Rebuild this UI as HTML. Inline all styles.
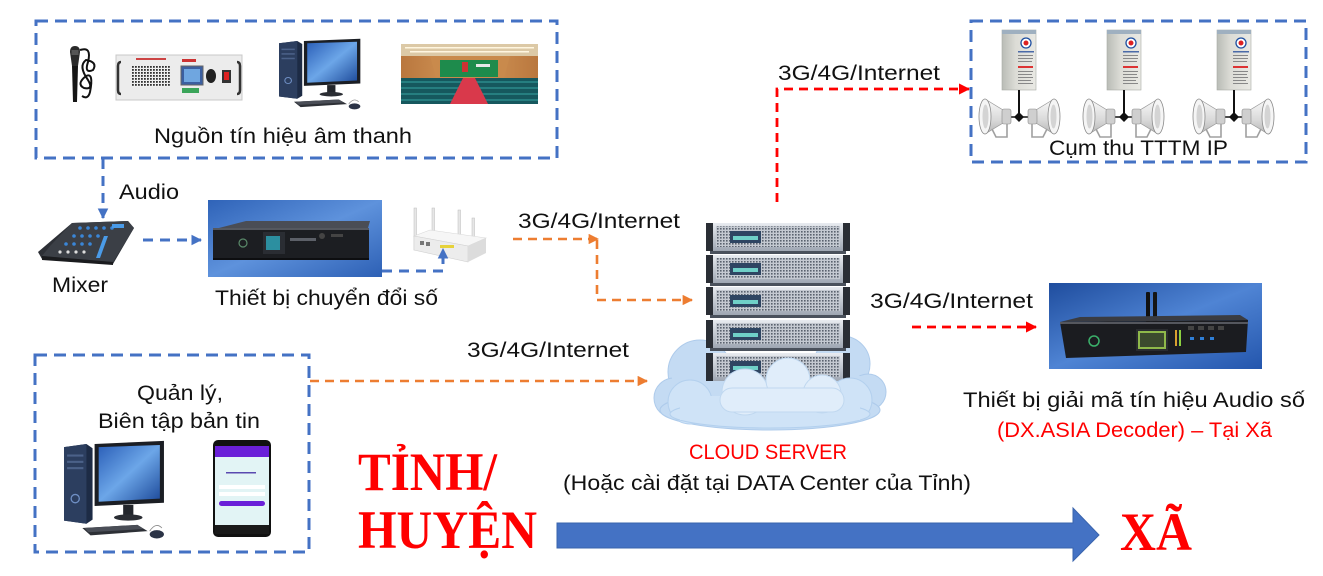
<!DOCTYPE html>
<html><head><meta charset="utf-8"><style>
html,body{margin:0;padding:0;background:#fff;}
svg{display:block;}
text{font-family:"Liberation Sans","DejaVu Sans",sans-serif;}
.t{font-size:21px;fill:#111;}
.r{font-size:21px;fill:#ff0000;}
.big{font-family:"Liberation Serif","DejaVu Serif",serif;font-weight:bold;font-size:54px;fill:#ff0000;}
</style></head><body>
<svg width="1323" height="576" viewBox="0 0 1323 576" xmlns="http://www.w3.org/2000/svg">
<defs>
<marker id="mb" viewBox="0 0 10 10" refX="9" refY="5" markerWidth="3.6" markerHeight="3.6" orient="auto"><path d="M0,0 L10,5 L0,10 z" fill="#4472C4"/></marker>
<marker id="mo" viewBox="0 0 10 10" refX="9" refY="5" markerWidth="4" markerHeight="4" orient="auto"><path d="M0,0 L10,5 L0,10 z" fill="#ED7D31"/></marker>
<marker id="mr" viewBox="0 0 10 10" refX="9" refY="5" markerWidth="4" markerHeight="4" orient="auto"><path d="M0,0 L10,5 L0,10 z" fill="#FF0000"/></marker>
<linearGradient id="blueBg" x1="0" y1="0" x2="1" y2="1"><stop offset="0" stop-color="#1f4d9e"/><stop offset="0.5" stop-color="#4f84d4"/><stop offset="1" stop-color="#2456ad"/></linearGradient>
<linearGradient id="blueBg2" x1="0" y1="0" x2="1" y2="1"><stop offset="0" stop-color="#2f63b8"/><stop offset="0.5" stop-color="#5e92dc"/><stop offset="1" stop-color="#2d60b5"/></linearGradient>
<linearGradient id="scr" x1="0" y1="0" x2="1" y2="1"><stop offset="0" stop-color="#2b5fb8"/><stop offset="0.5" stop-color="#6ca6e8"/><stop offset="1" stop-color="#1d4a9a"/></linearGradient>
<linearGradient id="srvG" x1="0" y1="0" x2="0" y2="1"><stop offset="0" stop-color="#e8ebf0"/><stop offset="1" stop-color="#9ea6b2"/></linearGradient>
<pattern id="grid" width="3" height="3" patternUnits="userSpaceOnUse"><rect width="3" height="3" fill="#c4c9d1"/><rect width="1.6" height="1.6" fill="#5a626e"/></pattern>
<pattern id="dots" width="3" height="3" patternUnits="userSpaceOnUse"><rect width="3" height="3" fill="#f0f0f0"/><rect width="1.8" height="1.8" fill="#333"/></pattern>
<linearGradient id="cab" x1="0" y1="0" x2="1" y2="0"><stop offset="0" stop-color="#b9bcb6"/><stop offset="0.4" stop-color="#dcdcd6"/><stop offset="1" stop-color="#e9e9e4"/></linearGradient>
<linearGradient id="hornG" x1="0" y1="0" x2="0" y2="1"><stop offset="0" stop-color="#fafafa"/><stop offset="0.6" stop-color="#d9d9d9"/><stop offset="1" stop-color="#b5b5b5"/></linearGradient>
<linearGradient id="wall" x1="0" y1="0" x2="1" y2="0"><stop offset="0" stop-color="#b9773e"/><stop offset="0.5" stop-color="#d69a5a"/><stop offset="1" stop-color="#b9773e"/></linearGradient>
<g id="hornL">
 <path d="M6,1 L24,12 L24,25 L6,36 Z" fill="url(#hornG)" stroke="#9a9a9a" stroke-width="0.7"/>
 <ellipse cx="6" cy="18.5" rx="6" ry="17.5" fill="#f5f5f5" stroke="#8a8a8a" stroke-width="0.8"/>
 <ellipse cx="6.5" cy="18.5" rx="3" ry="12" fill="#d4d4d4"/>
 <rect x="23" y="11" width="9" height="15" rx="2" fill="#cfcfcf" stroke="#8a8a8a" stroke-width="0.6"/>
 <path d="M13,31 L17,39 L28,39 L28,26" stroke="#a0a0a0" fill="none" stroke-width="1.6"/>
</g>
<g id="spk">
 <rect x="0" y="0" width="34" height="60" fill="url(#cab)" stroke="#a9aba5" stroke-width="0.6"/>
 <rect x="0" y="0" width="34" height="4" fill="#9fb0c0"/>
 <circle cx="24" cy="13" r="5" fill="#fff" stroke="#1f4fa0" stroke-width="1.3"/>
 <circle cx="24" cy="13" r="2.5" fill="#d22"/>
 <rect x="16" y="21" width="16" height="1.5" fill="#4a6aa8"/>
 <rect x="16" y="25" width="15" height="1" fill="#888"/>
 <rect x="16" y="28" width="15" height="1" fill="#888"/>
 <rect x="16" y="31" width="14" height="1" fill="#888"/>
 <rect x="16" y="36" width="15" height="2" fill="#d33"/>
 <rect x="16" y="41" width="15" height="1" fill="#888"/>
 <rect x="16" y="44" width="14" height="1" fill="#888"/>
 <rect x="16" y="47" width="15" height="1" fill="#888"/>
 <rect x="16" y="50" width="13" height="1" fill="#888"/>
 <rect x="16" y="53" width="15" height="1" fill="#888"/>
 <line x1="17" y1="60" x2="17" y2="87" stroke="#111" stroke-width="2"/>
 <path d="M12,87 L17,82 L22,87 L17,92 Z" fill="#111"/>
 <line x1="8" y1="87" x2="26" y2="87" stroke="#111" stroke-width="1.6"/>
</g>
<g id="pc">
 <polygon points="0,3 22,0 28,4 28,72 22,76 0,73" fill="#1d2b45"/>
 <polygon points="0,3 22,0 22,76 0,73" fill="#2c3e5f"/>
 <rect x="3" y="10" width="16" height="2" fill="#4b6189"/>
 <rect x="3" y="16" width="16" height="2" fill="#4b6189"/>
 <rect x="3" y="22" width="16" height="2" fill="#4b6189"/>
 <circle cx="11" cy="52" r="4" fill="none" stroke="#6f8fc4" stroke-width="1.3"/>
 <polygon points="30,0 98,-3 98,56 30,59" fill="#1b1e24"/>
 <polygon points="34,3 94,1 94,52 34,55" fill="url(#scr)"/>
 <rect x="58" y="58" width="10" height="10" fill="#23262c"/>
 <ellipse cx="63" cy="70" rx="14" ry="3" fill="#2a2d33"/>
 <polygon points="18,80 72,77 82,83 26,87" fill="#2d3036"/>
 <polygon points="20,80 72,77 78,81 24,84" fill="#4a4e57"/>
 <ellipse cx="91" cy="86" rx="7" ry="4" fill="#2b3346"/>
 <path d="M84,83 Q90,74 96,80" stroke="#888" fill="none" stroke-width="0.8"/>
</g>
</defs>

<!-- ===== dashed boxes ===== -->
<g fill="none" stroke="#4472C4" stroke-width="3" stroke-dasharray="12 7">
 <rect x="36" y="21" width="521" height="137"/>
 <rect x="971" y="21" width="335" height="141"/>
 <rect x="35" y="355" width="274" height="197"/>
</g>

<!-- ===== top-left images ===== -->
<g>
 <path d="M70,52 Q70,46 75,46 Q80,46 80,52 L78,66 L72,66 Z" fill="#2a2a2a"/>
 <rect x="71.5" y="50" width="7" height="5" fill="#555"/>
 <polygon points="72,66 78,66 77,102 73,102" fill="#151515"/>
 <path d="M80,50 Q92,46 88,62 Q84,74 93,70 Q98,62 86,60 Q78,66 88,80 Q94,90 84,88 Q76,84 86,76 Q94,72 90,92 Q88,100 82,96" stroke="#111" stroke-width="2" fill="none"/>
</g>
<g>
 <rect x="116" y="55" width="126" height="45" fill="#ececec" stroke="#c8c8c8"/>
 <path d="M121,62 Q118,62 118,66 L118,90 Q118,94 121,94" stroke="#333" stroke-width="2.5" fill="none"/>
 <path d="M237,62 Q240,62 240,66 L240,90 Q240,94 237,94" stroke="#333" stroke-width="2.5" fill="none"/>
 <rect x="132" y="66" width="38" height="21" fill="url(#dots)"/>
 <rect x="136" y="58" width="30" height="2" fill="#c44"/>
 <rect x="181" y="66" width="22" height="19" fill="#3b5fa0" stroke="#666"/>
 <rect x="184" y="69" width="16" height="13" fill="#6fa6e0"/>
 <rect x="182" y="88" width="17" height="5" fill="#3ba55a"/>
 <rect x="182" y="59" width="14" height="3" fill="#c33"/>
 <ellipse cx="211" cy="76" rx="5" ry="7" fill="#222"/>
 <rect x="222" y="70" width="9" height="13" fill="#333"/>
 <rect x="224" y="72" width="5" height="8" fill="#d22"/>
</g>
<!-- PC top (scaled) -->
<use href="#pc" transform="translate(279,41) scale(0.83,0.76)"/>
<!-- auditorium -->
<g>
 <rect x="401" y="44" width="137" height="60" fill="url(#wall)"/>
 <rect x="401" y="44" width="137" height="12" fill="#dcc9a6"/>
 <rect x="405" y="47" width="129" height="1.5" fill="#fff6e0"/>
 <rect x="410" y="51" width="119" height="1.5" fill="#fff6e0"/>
 <polygon points="430,56 510,56 504,78 436,78" fill="#c98a4c"/>
 <rect x="440" y="60" width="58" height="17" fill="#1e8b4c"/>
 <rect x="462" y="62" width="6" height="10" fill="#c33"/>
 <rect x="476" y="64" width="14" height="3" fill="#e8e8e8"/>
 <rect x="401" y="78" width="137" height="26" fill="#16585e"/>
 <g stroke="#2c8a8c" stroke-width="1.5">
  <line x1="401" y1="82" x2="462" y2="82"/><line x1="476" y1="82" x2="538" y2="82"/>
  <line x1="401" y1="88" x2="460" y2="88"/><line x1="479" y1="88" x2="538" y2="88"/>
  <line x1="401" y1="94" x2="457" y2="94"/><line x1="482" y1="94" x2="538" y2="94"/>
  <line x1="401" y1="100" x2="454" y2="100"/><line x1="485" y1="100" x2="538" y2="100"/>
 </g>
 <polygon points="463,78 475,78 488,104 450,104" fill="#d9394b"/>
</g>
<text class="t" x="154" y="143" textLength="258" lengthAdjust="spacingAndGlyphs">Nguồn tín hiệu âm thanh</text>

<line x1="103" y1="159" x2="103" y2="218" stroke="#4472C4" stroke-width="3" stroke-dasharray="10 7" marker-end="url(#mb)"/>
<text class="t" x="119" y="199" textLength="60" lengthAdjust="spacingAndGlyphs">Audio</text>

<!-- mixer -->
<g>
 <polygon points="72,223 128,221 134,228 113,264 42,259 38,252" fill="#2d3036"/>
 <polygon points="72,223 128,221 134,228 113,262 42,256 50,246" fill="#3b3f46"/>
 <polygon points="42,256 113,262 113,265 42,260" fill="#1a1b1e"/>
 <g fill="#3a86d8">
  <circle cx="80" cy="228" r="1.8"/><circle cx="88" cy="228" r="1.8"/><circle cx="96" cy="228" r="1.8"/><circle cx="104" cy="228" r="1.8"/><circle cx="112" cy="228" r="1.8"/>
  <circle cx="74" cy="236" r="1.8"/><circle cx="82" cy="236" r="1.8"/><circle cx="90" cy="236" r="1.8"/><circle cx="98" cy="236" r="1.8"/>
  <circle cx="66" cy="244" r="1.8"/><circle cx="74" cy="244" r="1.8"/><circle cx="82" cy="244" r="1.8"/><circle cx="90" cy="244" r="1.8"/>
 </g>
 <g fill="#ddd">
  <circle cx="60" cy="252" r="1.6"/><circle cx="68" cy="252" r="1.6"/><circle cx="76" cy="252" r="1.6"/><circle cx="84" cy="252" r="1.6"/>
 </g>
 <polygon points="104,236 108,236 100,258 96,258" fill="#4a9be8"/>
 <rect x="112" y="224" width="12" height="4" fill="#4a9be8"/>
</g>
<text class="t" x="52" y="292" textLength="56" lengthAdjust="spacingAndGlyphs">Mixer</text>

<line x1="143" y1="240" x2="201" y2="240" stroke="#4472C4" stroke-width="3" stroke-dasharray="10 7" marker-end="url(#mb)"/>

<!-- converter device -->
<g>
 <rect x="208" y="200" width="174" height="77" fill="url(#blueBg2)"/>
 <polygon points="215,229 246,221 370,221 368,228" fill="#4a4d55"/>
 <rect x="213" y="228" width="156" height="30" fill="#1c1e22"/>
 <rect x="213" y="228" width="156" height="2" fill="#55585f"/>
 <circle cx="243" cy="243" r="4" fill="none" stroke="#5a8a6a" stroke-width="1.2"/>
 <rect x="263" y="232" width="22" height="22" fill="#2a2d33"/>
 <rect x="266" y="236" width="14" height="14" fill="#2c8fa0"/>
 <rect x="290" y="238" width="26" height="3" fill="#5c6068"/>
 <circle cx="322" cy="236" r="3" fill="#444"/>
 <rect x="331" y="234" width="12" height="3" fill="#444"/>
 <rect x="213" y="258" width="156" height="2" fill="#0d0e10"/>
</g>
<text class="t" x="215" y="305" textLength="223" lengthAdjust="spacingAndGlyphs">Thiết bị chuyển đổi số</text>

<!-- router -->
<g>
 <rect x="414" y="208" width="2.5" height="42" fill="#e6e6e6" stroke="#bbb" stroke-width="0.5"/>
 <rect x="432" y="208" width="2.5" height="32" fill="#e6e6e6" stroke="#bbb" stroke-width="0.5"/>
 <rect x="458" y="210" width="2.5" height="36" fill="#e6e6e6" stroke="#bbb" stroke-width="0.5"/>
 <rect x="472" y="218" width="2.5" height="36" fill="#e6e6e6" stroke="#bbb" stroke-width="0.5"/>
 <polygon points="414,236 430,230 486,238 468,246" fill="#f6f6f6" stroke="#d8d8d8" stroke-width="0.6"/>
 <polygon points="414,236 468,246 468,262 414,250" fill="#ececec" stroke="#d0d0d0" stroke-width="0.6"/>
 <polygon points="468,246 486,238 486,253 468,262" fill="#dcdcdc"/>
 <rect x="420" y="241" width="4" height="4" fill="#777"/>
 <rect x="426" y="242" width="4" height="4" fill="#777"/>
 <rect x="440" y="245" width="14" height="3" fill="#e6d23a"/>
</g>
<polyline points="382,271 443,271 443,249" fill="none" stroke="#4472C4" stroke-width="3" stroke-dasharray="10 7" marker-end="url(#mb)"/>

<!-- orange connectors -->
<text class="t" x="518" y="228" textLength="162" lengthAdjust="spacingAndGlyphs">3G/4G/Internet</text>
<line x1="513" y1="239" x2="598" y2="239" stroke="#ED7D31" stroke-width="2.6" stroke-dasharray="9 6" marker-end="url(#mo)"/>
<polyline points="597,240 597,300 692,300" fill="none" stroke="#ED7D31" stroke-width="2.6" stroke-dasharray="9 6" marker-end="url(#mo)"/>
<text class="t" x="467" y="357" textLength="162" lengthAdjust="spacingAndGlyphs">3G/4G/Internet</text>
<line x1="310" y1="381" x2="647" y2="381" stroke="#ED7D31" stroke-width="2.6" stroke-dasharray="9 6" marker-end="url(#mo)"/>

<!-- ===== cloud server ===== -->
<g>
 <g fill="#c4dbf3" stroke="#aecbeb" stroke-width="1">
  <circle cx="700" cy="372" r="32"/>
  <circle cx="674" cy="398" r="20"/>
  <circle cx="842" cy="364" r="28"/>
  <circle cx="868" cy="392" r="18"/>
  <ellipse cx="770" cy="410" rx="110" ry="20"/>
 </g>
 <rect x="672" y="376" width="200" height="40" fill="#c4dbf3"/>
</g>
<g>
 <g>
  <rect x="706" y="223" width="144" height="28" rx="2" fill="url(#srvG)"/>
  <rect x="716" y="226" width="124" height="21" fill="url(#grid)"/>
  <rect x="730" y="231" width="31" height="12" fill="#2e4562"/>
  <rect x="733" y="236" width="25" height="4" fill="#6fd0c8"/>
  <rect x="706" y="223" width="7" height="28" fill="#2a2e35"/>
  <rect x="843" y="223" width="7" height="28" fill="#2a2e35"/>
  <rect x="710" y="251" width="136" height="3" fill="#4a515c"/>
 </g>
 <g>
  <rect x="706" y="255" width="144" height="28" rx="2" fill="url(#srvG)"/>
  <rect x="716" y="258" width="124" height="21" fill="url(#grid)"/>
  <rect x="730" y="263" width="31" height="12" fill="#2e4562"/>
  <rect x="733" y="268" width="25" height="4" fill="#6fd0c8"/>
  <rect x="706" y="255" width="7" height="28" fill="#2a2e35"/>
  <rect x="843" y="255" width="7" height="28" fill="#2a2e35"/>
  <rect x="710" y="283" width="136" height="3" fill="#4a515c"/>
 </g>
 <g>
  <rect x="706" y="287" width="144" height="28" rx="2" fill="url(#srvG)"/>
  <rect x="716" y="290" width="124" height="21" fill="url(#grid)"/>
  <rect x="730" y="295" width="31" height="12" fill="#2e4562"/>
  <rect x="733" y="300" width="25" height="4" fill="#6fd0c8"/>
  <rect x="706" y="287" width="7" height="28" fill="#2a2e35"/>
  <rect x="843" y="287" width="7" height="28" fill="#2a2e35"/>
  <rect x="710" y="315" width="136" height="3" fill="#4a515c"/>
 </g>
 <g>
  <rect x="706" y="320" width="144" height="28" rx="2" fill="url(#srvG)"/>
  <rect x="716" y="323" width="124" height="21" fill="url(#grid)"/>
  <rect x="730" y="328" width="31" height="12" fill="#2e4562"/>
  <rect x="733" y="333" width="25" height="4" fill="#6fd0c8"/>
  <rect x="706" y="320" width="7" height="28" fill="#2a2e35"/>
  <rect x="843" y="320" width="7" height="28" fill="#2a2e35"/>
  <rect x="710" y="348" width="136" height="3" fill="#4a515c"/>
 </g>
 <g>
  <rect x="706" y="353" width="144" height="28" rx="2" fill="url(#srvG)"/>
  <rect x="716" y="356" width="124" height="21" fill="url(#grid)"/>
  <rect x="730" y="361" width="31" height="12" fill="#2e4562"/>
  <rect x="733" y="366" width="25" height="4" fill="#6fd0c8"/>
  <rect x="706" y="353" width="7" height="28" fill="#2a2e35"/>
  <rect x="843" y="353" width="7" height="28" fill="#2a2e35"/>
 </g>
</g>
<g fill="#cfe3f7" stroke="#b3d0ee" stroke-width="1">
 <circle cx="690" cy="402" r="22"/>
 <circle cx="850" cy="400" r="22"/>
 <ellipse cx="770" cy="414" rx="100" ry="14"/>
</g>
<rect x="680" y="396" width="180" height="24" fill="#cfe3f7"/>
<g fill="#e0edfa" stroke="#c0d8f0" stroke-width="1">
 <circle cx="745" cy="392" r="23"/>
 <circle cx="788" cy="380" r="22"/>
 <circle cx="822" cy="394" r="19"/>
 <rect x="720" y="388" width="124" height="24" rx="12"/>
</g>
<rect x="735" y="390" width="100" height="20" fill="#e0edfa"/>

<text class="r" x="689" y="459" textLength="158" lengthAdjust="spacingAndGlyphs">CLOUD SERVER</text>
<text class="t" x="563" y="490" textLength="408" lengthAdjust="spacingAndGlyphs">(Hoặc cài đặt tại DATA Center của Tỉnh)</text>

<!-- red connector to top right -->
<text class="t" x="778" y="80" textLength="162" lengthAdjust="spacingAndGlyphs">3G/4G/Internet</text>
<polyline points="777,202 777,89 969,89" fill="none" stroke="#FF0000" stroke-width="2.8" stroke-dasharray="9 6" marker-end="url(#mr)"/>

<!-- speaker clusters -->
<g>
 <use href="#spk" x="1002" y="30"/>
 <use href="#hornL" x="979" y="98"/>
 <use href="#hornL" transform="translate(1060,98) scale(-1,1)"/>
 <use href="#spk" x="1107" y="30"/>
 <use href="#hornL" x="1083" y="98"/>
 <use href="#hornL" transform="translate(1164,98) scale(-1,1)"/>
 <use href="#spk" x="1217" y="30"/>
 <use href="#hornL" x="1193" y="98"/>
 <use href="#hornL" transform="translate(1274,98) scale(-1,1)"/>
</g>
<text class="t" x="1049" y="155" textLength="179" lengthAdjust="spacingAndGlyphs">Cụm thu TTTM IP</text>

<!-- decoder -->
<text class="t" x="870" y="308" textLength="163" lengthAdjust="spacingAndGlyphs">3G/4G/Internet</text>
<line x1="912" y1="327" x2="1036" y2="327" stroke="#FF0000" stroke-width="2.8" stroke-dasharray="9 6" marker-end="url(#mr)"/>
<g>
 <rect x="1049" y="283" width="213" height="86" fill="url(#blueBg)"/>
 <rect x="1146" y="292" width="4" height="30" rx="1" fill="#111"/>
 <rect x="1153" y="292" width="4" height="30" rx="1" fill="#151515"/>
 <polygon points="1060,322 1080,317 1240,315 1248,320" fill="#3a3c42"/>
 <polygon points="1060,322 1248,320 1246,352 1066,358" fill="#1b1c20"/>
 <rect x="1060" y="322" width="188" height="2" fill="#55575e"/>
 <circle cx="1094" cy="341" r="5" fill="none" stroke="#3bb06a" stroke-width="1.5"/>
 <rect x="1136" y="329" width="32" height="22" fill="#2a2c30"/>
 <rect x="1138" y="331" width="28" height="18" fill="#8fb84a"/>
 <rect x="1140" y="333" width="24" height="14" fill="#3c4a2e"/>
 <rect x="1175" y="330" width="2" height="16" fill="#d8a030"/>
 <rect x="1179" y="330" width="2" height="16" fill="#8cd040"/>
 <g fill="#444"><rect x="1188" y="326" width="6" height="4"/><rect x="1198" y="326" width="6" height="4"/><rect x="1208" y="326" width="6" height="4"/><rect x="1218" y="326" width="6" height="4"/></g>
 <g fill="#2f7fd8"><rect x="1190" y="337" width="4" height="3"/><rect x="1200" y="337" width="4" height="3"/><rect x="1210" y="337" width="4" height="3"/></g>
</g>
<text class="t" x="963" y="407" textLength="342" lengthAdjust="spacingAndGlyphs">Thiết bị giải mã tín hiệu Audio số</text>
<text class="r" x="997" y="437" textLength="275" lengthAdjust="spacingAndGlyphs">(DX.ASIA Decoder) – Tại Xã</text>

<!-- bottom-left box content -->
<text class="t" x="137" y="400" textLength="86" lengthAdjust="spacingAndGlyphs">Quản lý,</text>
<text class="t" x="98" y="428" textLength="162" lengthAdjust="spacingAndGlyphs">Biên tập bản tin</text>
<use href="#pc" transform="translate(64,444) scale(1.02,1.05)"/>
<g>
 <rect x="213" y="440" width="58" height="97" rx="5" fill="#111"/>
 <rect x="215" y="446" width="54" height="11" fill="#6a1fd8"/>
 <rect x="215" y="457" width="54" height="68" fill="#e2f4f5"/>
 <rect x="226" y="472" width="30" height="1.5" fill="#5a4ab0"/>
 <rect x="219" y="485" width="46" height="4" fill="#fff"/>
 <rect x="219" y="492" width="46" height="4" fill="#fff"/>
 <rect x="219" y="501" width="46" height="5" rx="2.5" fill="#6a1fd8"/>
 <rect x="215" y="525" width="54" height="9" fill="#1a1a1a"/>
</g>

<!-- bottom labels and arrow -->
<text class="big" x="358" y="490" textLength="139" lengthAdjust="spacingAndGlyphs">TỈNH/</text>
<text class="big" x="358" y="548" textLength="179" lengthAdjust="spacingAndGlyphs">HUYỆN</text>
<polygon points="557,523 1073,523 1073,508 1099,535 1073,561 1073,548 557,548" fill="#4472C4" stroke="#3a64ad" stroke-width="1"/>
<text class="big" x="1120" y="550" textLength="72" lengthAdjust="spacingAndGlyphs">XÃ</text>
</svg>
</body></html>
